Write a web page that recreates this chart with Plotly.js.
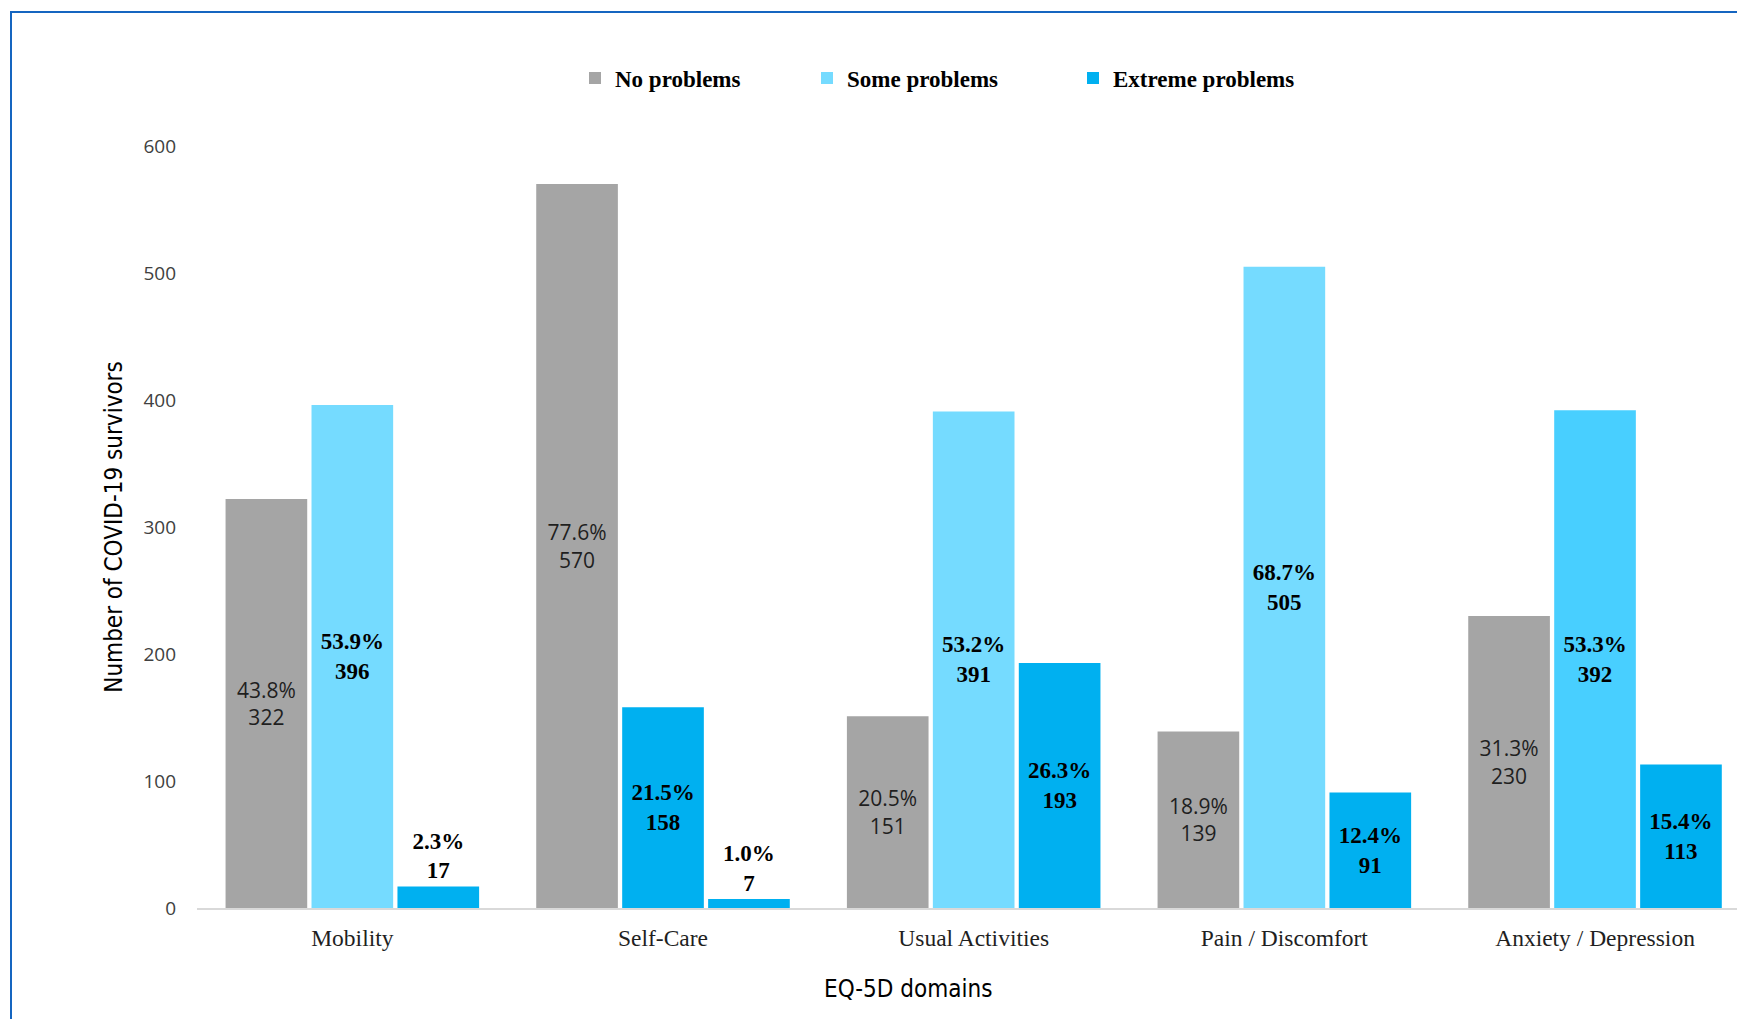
<!DOCTYPE html>
<html>
<head>
<meta charset="utf-8">
<script src="https://cdn.plot.ly/plotly-3.0.1.min.js"></script>
<style>
  html, body { margin:0; padding:0; overflow:hidden; background:#fff; }
  #chart { width:1737px; height:1019px; position:absolute; left:0; top:0; }
  #frame { position:absolute; left:10px; top:11px; width:3000px; height:3000px;
           border-left:2px solid #1565C0; border-top:2px solid #1565C0; pointer-events:none; }
</style>
</head>
<body>
<div id="chart"></div>
<div id="frame"></div>
<script>
const categories = ['Mobility', 'Self-Care', 'Usual Activities', 'Pain / Discomfort', 'Anxiety / Depression'];
const noProblems = [322, 570, 151, 139, 230];
const someProblems = [396, 158, 391, 505, 392];
const extremeProblems = [17, 7, 193, 91, 113];
const noPct = ['43.8%', '77.6%', '20.5%', '18.9%', '31.3%'];
const somePct = ['53.9%', '21.5%', '53.2%', '68.7%', '53.3%'];
const extremePct = ['2.3%', '1.0%', '26.3%', '12.4%', '15.4%'];
const seriesNames = ['No problems', 'Some problems', 'Extreme problems'];

const noColors = ['#A5A5A5', '#A5A5A5', '#A5A5A5', '#A5A5A5', '#A5A5A5'];
const someColors = ['#75DBFF', '#00B0F0', '#75DBFF', '#75DBFF', '#48CFFF'];
const extremeColors = ['#00B0F0', '#00B0F0', '#00B0F0', '#00B0F0', '#00B0F0'];

const serifBold = {family: 'Liberation Serif, Times New Roman, serif', size: 23, color: '#000000', weight: 700};
const sansLabel = {family: 'Open Sans, Noto Sans, sans-serif', size: 21, color: '#1F1F1F'};

const traces = [
  {type: 'bar', name: seriesNames[0], x: categories, y: noProblems, customdata: noPct,
   marker: {color: noColors}, texttemplate: '%{customdata}<br>%{y}', textposition: 'auto',
   insidetextanchor: 'middle', textfont: sansLabel, outsidetextfont: sansLabel, insidetextfont: sansLabel,
   legend: 'legend', showlegend: true, cliponaxis: false, hoverinfo: 'x+y+name'},
  {type: 'bar', name: seriesNames[1], x: categories, y: someProblems, customdata: somePct,
   marker: {color: someColors}, texttemplate: '%{customdata}<br>%{y}', textposition: 'auto',
   insidetextanchor: 'middle', textfont: serifBold, outsidetextfont: serifBold, insidetextfont: serifBold,
   legend: 'legend2', showlegend: true, cliponaxis: false, hoverinfo: 'x+y+name'},
  {type: 'bar', name: seriesNames[2], x: categories, y: extremeProblems, customdata: extremePct,
   marker: {color: extremeColors}, texttemplate: '%{customdata}<br>%{y}', textposition: 'auto',
   insidetextanchor: 'middle', textfont: serifBold, outsidetextfont: serifBold, insidetextfont: serifBold,
   legend: 'legend3', showlegend: true, cliponaxis: false, hoverinfo: 'x+y+name'}
];

const legendFont = {family: 'Liberation Serif, Times New Roman, serif', size: 23, color: '#000000', weight: 700};
function leg(xpx) {
  return {orientation: 'h', xref: 'container', yref: 'container', x: xpx / 1737, y: 1 - 78 / 1019,
          xanchor: 'left', yanchor: 'middle', font: legendFont, bgcolor: 'rgba(0,0,0,0)', borderwidth: 0,
          visible: true};
}

const layout = {
  width: 1737, height: 1019,
  showlegend: true,
  margin: {l: 197, r: 0, t: 146, b: 111, pad: 0},
  paper_bgcolor: '#ffffff', plot_bgcolor: '#ffffff',
  barmode: 'group', bargap: 0.17, bargroupgap: 0.05,
  legend: leg(575), legend2: leg(807), legend3: leg(1073),
  xaxis: {
    type: 'category', range: [-0.5, 4.457], showgrid: false, zeroline: false,
    showline: true, linecolor: '#D9D9D9', linewidth: 2, ticks: '',
    tickfont: {family: 'Liberation Serif, Times New Roman, serif', size: 23.5, color: '#1F1F1F'},
    ticklabelstandoff: 8
  },
  yaxis: {
    range: [0, 600], dtick: 100, tick0: 0, showgrid: false, zeroline: false, showline: false, ticks: '',
    tickfont: {family: 'Open Sans, Noto Sans, sans-serif', size: 19, color: '#404040'},
    ticklabelstandoff: 20,
    title: {text: 'Number of COVID-19 survivors', standoff: 14,
            font: {family: 'Liberation Sans Narrow, DejaVu Sans Condensed, sans-serif', size: 24, color: '#000000'}}
  },
  annotations: [{
    text: 'EQ-5D domains', xref: 'paper', yref: 'paper', x: (908 - 197) / 1540, y: (908 - 989) / 762,
    xanchor: 'center', yanchor: 'middle', showarrow: false,
    font: {family: 'Liberation Sans Narrow, DejaVu Sans Condensed, sans-serif', size: 24, color: '#000000'}
  }]
};

Plotly.newPlot('chart', traces, layout, {displayModeBar: false, staticPlot: true});
</script>
</body>
</html>
